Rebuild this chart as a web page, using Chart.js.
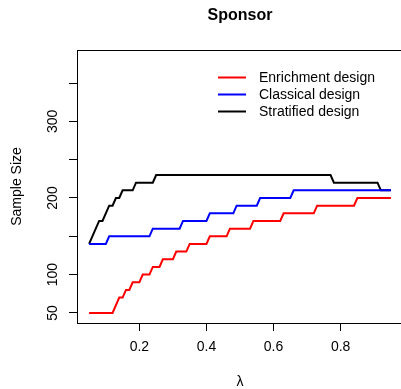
<!DOCTYPE html>
<html>
<head>
<meta charset="utf-8">
<script src="https://cdn.jsdelivr.net/npm/chart.js@4.4.0/dist/chart.umd.min.js"></script>
<style>
  html, body { margin: 0; padding: 0; background: #ffffff; overflow: hidden; }
  #wrap { position: absolute; left: 0; top: 0; width: 410px; height: 389px; }
</style>
</head>
<body>
<div id="wrap"><canvas id="c" width="410" height="389"></canvas></div>
<script>
// Texts
const chartTitle = 'Sponsor';
const xTitle = 'λ';
const yTitle = 'Sample Size';

// Axis ticks
const xTicks = [0.2, 0.4, 0.6, 0.8];
const yTicks = [50, 100, 150, 200, 250, 300, 350];
const yTickLabels = ['50', '100', '', '200', '', '300', ''];

// Series: corner points of each step curve (lambda, sample size)
const seriesNames = ['Enrichment design', 'Classical design', 'Stratified design'];
const seriesColors = ['#ff0000', '#0000ff', '#000000'];

const lambdaEnrichment = [0.05, 0.12, 0.14, 0.15, 0.16, 0.17, 0.18, 0.20, 0.21, 0.23, 0.24, 0.26, 0.27, 0.30, 0.31, 0.34, 0.35, 0.40, 0.41, 0.46, 0.47, 0.53, 0.54, 0.62, 0.63, 0.72, 0.73, 0.84, 0.85, 0.95];
const nEnrichment      = [50,   50,   70,   70,   80,   80,   90,   90,   100,  100,  110,  110,  120,  120,  130,  130,  140,  140,  150,  150,  160,  160,  170,  170,  180,  180,  190,  190,  200,  200];

const lambdaClassical = [0.05, 0.10, 0.11, 0.23, 0.24, 0.32, 0.33, 0.40, 0.41, 0.48, 0.49, 0.55, 0.56, 0.65, 0.66, 0.95];
const nClassical      = [140,  140,  150,  150,  160,  160,  170,  170,  180,  180,  190,  190,  200,  200,  210,  210];

const lambdaStratified = [0.05, 0.08, 0.09, 0.11, 0.12, 0.13, 0.14, 0.15, 0.18, 0.19, 0.24, 0.25, 0.77, 0.78, 0.91, 0.92, 0.95];
const nStratified      = [140,  170,  170,  190,  190,  200,  200,  210,  210,  220,  220,  230,  230,  220,  220,  210,  210];

const lambdas = [lambdaEnrichment, lambdaClassical, lambdaStratified];
const sizes = [nEnrichment, nClassical, nStratified];

const FONT = '"Liberation Sans", Arial, Helvetica, sans-serif';

const datasets = seriesNames.map((name, i) => ({
  label: name,
  data: lambdas[i].map((x, j) => ({ x: x, y: sizes[i][j] })),
  borderColor: seriesColors[i],
  backgroundColor: seriesColors[i],
  borderWidth: 2,
  pointRadius: 0,
  tension: 0,
  fill: false
}));

// Frame, titles and the in-plot legend
const decorations = {
  id: 'decorations',
  afterDraw(chart) {
    const ctx = chart.ctx;
    const a = chart.chartArea;
    ctx.save();
    // top and right sides of the box
    ctx.strokeStyle = '#000';
    ctx.lineWidth = 1;
    ctx.beginPath();
    ctx.moveTo(Math.round(a.left) + 0.5, Math.round(a.top) + 0.5);
    ctx.lineTo(Math.round(a.right) + 0.5, Math.round(a.top) + 0.5);
    ctx.lineTo(Math.round(a.right) + 0.5, Math.round(a.bottom) + 0.5);
    ctx.stroke();

    const cx = (a.left + a.right) / 2;
    const cy = (a.top + a.bottom) / 2;
    ctx.fillStyle = '#000';
    // main title
    ctx.font = 'bold 16px ' + FONT;
    ctx.textAlign = 'center';
    ctx.textBaseline = 'middle';
    ctx.fillText(chartTitle, cx, 16);
    // axis titles
    ctx.font = '14px ' + FONT;
    ctx.fillText(xTitle, cx, 382);
    ctx.save();
    ctx.translate(17, cy);
    ctx.rotate(-Math.PI / 2);
    ctx.fillText(yTitle, 0, 0);
    ctx.restore();

    // legend
    const lx0 = 218, lx1 = 246, tx = 259;
    const rowY = [77.5, 94.5, 111.5];
    ctx.textAlign = 'left';
    ctx.textBaseline = 'middle';
    seriesNames.forEach((name, i) => {
      ctx.strokeStyle = seriesColors[i];
      ctx.lineWidth = 2;
      ctx.beginPath();
      ctx.moveTo(lx0, rowY[i]);
      ctx.lineTo(lx1, rowY[i]);
      ctx.stroke();
      ctx.fillStyle = '#000';
      ctx.fillText(name, tx, rowY[i] + 0.5);
    });
    ctx.restore();
  }
};

new Chart(document.getElementById('c'), {
  type: 'line',
  data: { datasets: datasets },
  options: {
    responsive: false,
    animation: false,
    devicePixelRatio: 1,
    layout: { padding: { left: 0, right: 7, top: 50, bottom: 0 } },
    plugins: {
      legend: { display: false },
      tooltip: { enabled: false },
      title: { display: false }
    },
    scales: {
      x: {
        type: 'linear',
        min: 0.014,
        max: 0.986,
        afterBuildTicks: s => { s.ticks = xTicks.map(v => ({ value: v })); },
        afterFit: s => { s.height = 66; },
        ticks: {
          font: { family: FONT, size: 14 },
          color: '#000',
          padding: 8,
          maxRotation: 0,
          minRotation: 0,
          autoSkip: false,
          callback: v => v.toFixed(1)
        },
        grid: { display: true, drawOnChartArea: false, drawTicks: true, tickLength: 8, color: '#000', lineWidth: 1 },
        border: { display: true, color: '#000', width: 1 }
      },
      y: {
        type: 'linear',
        min: 36.8,
        max: 393.2,
        afterBuildTicks: s => { s.ticks = yTicks.map(v => ({ value: v })); },
        afterFit: s => { s.width = 77; },
        ticks: {
          font: { family: FONT, size: 14 },
          color: '#000',
          padding: 4,
          minRotation: 90,
          maxRotation: 90,
          crossAlign: 'center',
          autoSkip: false,
          callback: v => yTickLabels[yTicks.indexOf(v)]
        },
        grid: { display: true, drawOnChartArea: false, drawTicks: true, tickLength: 8, color: '#000', lineWidth: 1 },
        border: { display: true, color: '#000', width: 1 }
      }
    }
  },
  plugins: [decorations]
});
</script>
</body>
</html>
